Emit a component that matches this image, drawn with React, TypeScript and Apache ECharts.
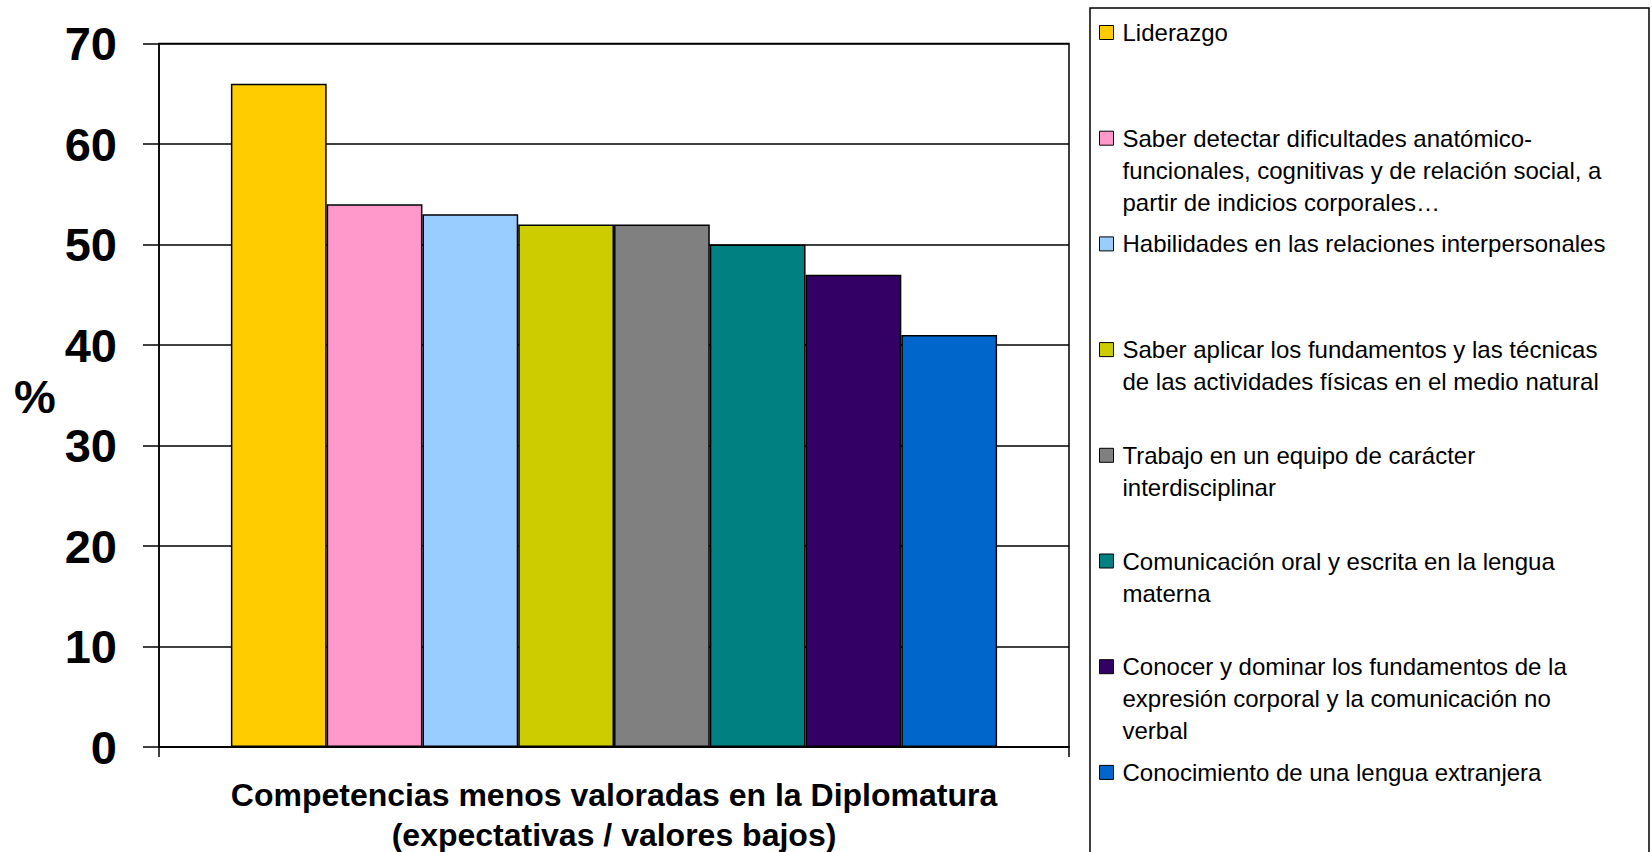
import React, { useEffect, useRef } from "react";
import * as echarts from "echarts";

const competencias: string[] = [
  "Liderazgo",
  "Saber detectar dificultades anatómico-\nfuncionales, cognitivas y de relación social, a\npartir de indicios corporales…",
  "Habilidades en las relaciones interpersonales",
  "Saber aplicar los fundamentos y las técnicas\nde las actividades físicas en el medio natural",
  "Trabajo en un equipo de carácter\ninterdisciplinar",
  "Comunicación oral y escrita en la lengua\nmaterna",
  "Conocer y dominar los fundamentos de la\nexpresión corporal y la comunicación no\nverbal",
  "Conocimiento de una lengua extranjera",
];

const porcentajes: number[] = [66, 54, 53, 52, 52, 50, 47, 41];

const colores: string[] = [
  "#FFCC00",
  "#FF99CC",
  "#99CCFF",
  "#CCCC00",
  "#808080",
  "#008080",
  "#330066",
  "#0066CC",
];

const categoria: string[] = [""];
const yTicks = { min: 0, max: 70, interval: 10 };
const xTitle = "Competencias menos valoradas en la Diplomatura\n(expectativas / valores bajos)";
const yTitle = "%";

const FONT = "'Liberation Sans', Arial, Helvetica, sans-serif";

export default function App() {
  const ref = useRef<HTMLDivElement>(null);

  useEffect(() => {
    document.body.style.margin = "0";
    if (!ref.current) return;
    const chart = echarts.init(ref.current, undefined, { renderer: "svg" });

    const series = competencias.map((name, i) => ({
      name,
      type: "bar",
      data: [porcentajes[i]],
      barGap: "0%",
      barCategoryGap: "15.8%",
      itemStyle: { color: colores[i], borderColor: "#000", borderWidth: 1.5 },
    }));

    const legendData = competencias.map((name) => ({ name }));

    chart.setOption({
      animation: false,
      backgroundColor: "#fff",
      textStyle: { fontFamily: FONT },
      grid: {
        left: 159,
        right: 583,
        top: 43.5,
        bottom: 105,
        show: true,
        borderColor: "#000",
        borderWidth: 1.5,
        backgroundColor: "transparent",
        outerBoundsMode: "none",
        containLabel: false,
      },
      legend: {
        orient: "vertical",
        left: 1099,
        top: -47.5,
        height: 3000,
        padding: 0,
        itemGap: -54.3,
        itemWidth: 14,
        itemHeight: 14,
        icon: "rect",
        selectedMode: false,
        data: legendData,
        itemStyle: { borderColor: "#000", borderWidth: 1 },
        formatter: (name: string) => {
          const n = name.split("\n").length;
          return "\n\n" + name + "\n".repeat(3 - n);
        },
        textStyle: {
          fontFamily: FONT,
          fontSize: 24,
          lineHeight: 32,
          color: "#000",
          padding: [0, 0, 0, 4],
          backgroundColor: "rgba(255,255,255,0)",
        },
      },
      xAxis: {
        type: "category",
        data: categoria,
        name: xTitle,
        nameLocation: "middle",
        nameGap: 28,
        nameTextStyle: {
          fontFamily: FONT,
          fontSize: 32,
          fontWeight: "bold",
          lineHeight: 40,
          color: "#000",
        },
        axisLine: { show: true, lineStyle: { color: "#000", width: 1.5 } },
        axisTick: { show: true, length: 10, lineStyle: { color: "#000", width: 1.5 } },
        axisLabel: { show: false },
        splitLine: { show: false },
      },
      yAxis: {
        type: "value",
        min: yTicks.min,
        max: yTicks.max,
        interval: yTicks.interval,
        axisLine: { show: true, lineStyle: { color: "#000", width: 1.5 } },
        axisTick: { show: true, length: 16, lineStyle: { color: "#000", width: 1.5 } },
        axisLabel: {
          fontFamily: FONT,
          fontSize: 47,
          fontWeight: "bold",
          color: "#000",
          margin: 42,
        },
        splitLine: { show: true, lineStyle: { color: "#000", width: 1.5 } },
      },
      graphic: [
        {
          type: "rect",
          shape: { x: 1090, y: 8, width: 559, height: 900 },
          style: { fill: "none", stroke: "#000", lineWidth: 1.5 },
          silent: true,
        },
        {
          type: "text",
          x: 35,
          y: 396,
          style: {
            text: yTitle,
            font: `bold 47px ${FONT}`,
            fill: "#000",
            align: "center",
            verticalAlign: "middle",
          },
          silent: true,
        },
      ],
      series,
    });

    return () => chart.dispose();
  }, []);

  return <div ref={ref} style={{ width: 1652, height: 852 }} />;
}
